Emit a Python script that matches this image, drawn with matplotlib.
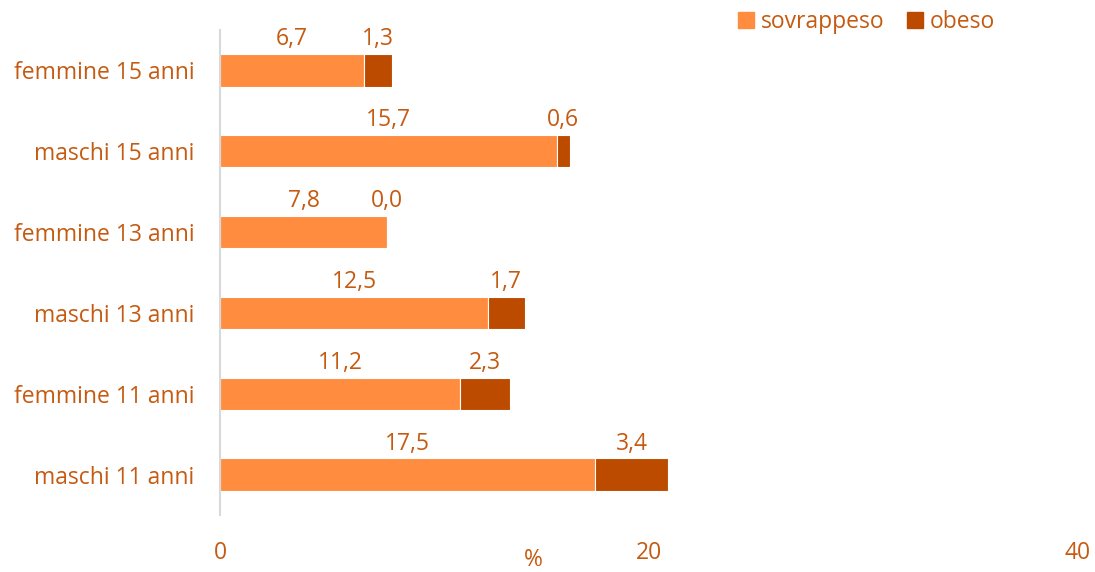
import matplotlib.pyplot as plt
from matplotlib.patches import Patch

plt.rcParams['font.family'] = ['Open Sans', 'DejaVu Sans']

categories = ["maschi 11 anni", "femmine 11 anni", "maschi 13 anni",
              "femmine 13 anni", "maschi 15 anni", "femmine 15 anni"]
sovrappeso = [17.5, 11.2, 12.5, 7.8, 15.7, 6.7]
obeso = [3.4, 2.3, 1.7, 0.0, 0.6, 1.3]
xticks = [0, 20, 40]

c_light = "#FF8C3F"
c_dark = "#BC4B00"
c_text = "#C55A11"
fs = 16.5

fig = plt.figure(figsize=(10.95, 5.72), dpi=100)
ax = fig.add_axes([0.2009, 0.0997, 0.7836, 0.8479])

y = range(len(categories))
ax.barh(y, sovrappeso, height=0.4, color=c_light, edgecolor="white", linewidth=0.8)
ax.barh(y, obeso, left=sovrappeso, height=0.4, color=c_dark, edgecolor="white", linewidth=0.8)

def fmt(v):
    return ("%.1f" % v).replace(".", ",")

for i in y:
    s, o = sovrappeso[i], obeso[i]
    ax.annotate(fmt(s), (s / 2, i + 0.2), xytext=(0, 2), textcoords="offset points",
                ha="center", va="bottom", fontsize=fs, color=c_text)
    ax.annotate(fmt(o), (s + o / 2, i + 0.2), xytext=(0, 2), textcoords="offset points",
                ha="center", va="bottom", fontsize=fs, color=c_text)

ax.set_xlim(0, 40)
ax.set_ylim(-0.5, len(categories) - 0.5)
ax.set_yticks(list(y))
ax.set_yticklabels(categories, fontsize=fs, color=c_text)
ax.set_xticks(xticks)
ax.set_xticklabels([str(t) for t in xticks], fontsize=fs, color=c_text)
ax.tick_params(axis="both", length=0)
ax.tick_params(axis="x", pad=19)
ax.tick_params(axis="y", pad=18.5)
for side in ["top", "right", "bottom"]:
    ax.spines[side].set_visible(False)
ax.spines["left"].set_color("#D9D9D9")
ax.spines["left"].set_linewidth(1.5)

fig.text(533 / 1095, 1 - 560 / 572, "%", ha="center", va="center", fontsize=fs, color=c_text)

handles = [Patch(color=c_light, label="sovrappeso"), Patch(color=c_dark, label="obeso")]
leg = fig.legend(handles=handles, loc="center left", bbox_to_anchor=(717 / 1095, 1 - 22 / 572),
                 ncol=2, frameon=False, fontsize=fs, handlelength=0.7, handleheight=0.7,
                 handletextpad=0.3, columnspacing=1.0)
for t in leg.get_texts():
    t.set_color(c_text)

fig.savefig("out.png", dpi=100)
